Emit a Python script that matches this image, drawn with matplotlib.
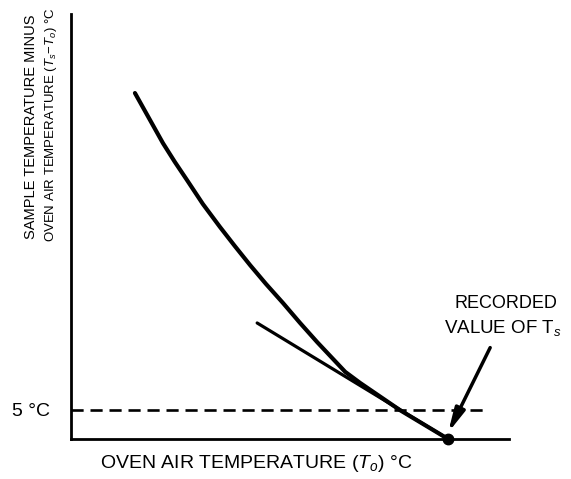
import numpy as np
import matplotlib
matplotlib.use("Agg")
import matplotlib.pyplot as plt

plt.rcParams['font.family'] = ['Liberation Sans', 'DejaVu Sans']
plt.rcParams['mathtext.fontset'] = 'custom'
plt.rcParams['mathtext.rm'] = 'Liberation Sans'
plt.rcParams['mathtext.it'] = 'Liberation Sans:italic'

# curva (unidades arbitrarias, eje 0..100)
curva_x = [14.6, 17.8, 21.0, 23.7, 26.5, 30.1, 34.0, 37.4, 40.9, 44.5,
           48.4, 52.3, 56.2, 59.4, 62.6, 66.0, 75.1, 86.1]
curva_y = [81.4, 75.5, 69.6, 65.2, 60.9, 55.3, 49.9, 45.4, 40.9, 36.5,
           32.0, 27.3, 22.8, 19.3, 15.8, 13.2, 6.8, 0.0]

# tangente al final de la curva
tangente_x = [42.5, 86.1]
tangente_y = [27.3, 0.0]

# linea de 5 °C
nivel_5 = 6.8
fin_discontinua = 94.1

# valor registrado de Ts
punto_x = 86.1
punto_y = 0.0
flecha_desde = (95.7, 21.5)

W, H = 571, 479
fig = plt.figure(figsize=(W / 100, H / 100), dpi=100)
ax = fig.add_axes([71 / W, 40 / H, 438 / W, 425 / H])
ax.set_xlim(0, 100)
ax.set_ylim(0, 100)
for s in ['top', 'right']:
    ax.spines[s].set_visible(False)
ax.spines['left'].set_linewidth(2.0)
ax.spines['bottom'].set_linewidth(2.0)
ax.set_xticks([])
ax.set_yticks([])

ax.plot(curva_x, curva_y, color='black', lw=3.0, solid_capstyle='round', solid_joinstyle='round')
ax.plot(tangente_x, tangente_y, color='black', lw=2.3, solid_capstyle='round')
ax.plot([0, fin_discontinua], [nivel_5, nivel_5], color='black', lw=1.9, dashes=(4.6, 2.6))
ax.plot([punto_x], [punto_y], 'o', color='black', ms=7.5, clip_on=False, zorder=5)
ax.annotate('', xy=(punto_x, punto_y + 1.5), xytext=flecha_desde,
            arrowprops=dict(arrowstyle='-|>,head_length=1.0,head_width=0.22',
                            mutation_scale=14, color='black', lw=2.5, shrinkA=0, shrinkB=0))

# textos
fig.text(31 / W, 1 - 127 / H, 'SAMPLE TEMPERATURE MINUS', rotation=90,
         ha='center', va='center', fontsize=10.5)
fig.text(51 / W, 1 - 125 / H, r'OVEN AIR TEMPERATURE ($T_s\!-\!T_o$) °C', rotation=90,
         ha='center', va='center', fontsize=9.5)
fig.text(50 / W, 1 - 411 / H, '5 °C', ha='right', va='center', fontsize=14)
fig.text(256 / W, 1 - 463 / H, r'OVEN AIR TEMPERATURE ($T_o$) °C', ha='center', va='center', fontsize=14)
fig.text(506 / W, 1 - 303.5 / H, 'RECORDED', ha='center', va='center', fontsize=13)
fig.text(503 / W, 1 - 328.5 / H, r'VALUE OF T$_s$', ha='center', va='center', fontsize=13.5)

fig.savefig('out.png', dpi=100)
